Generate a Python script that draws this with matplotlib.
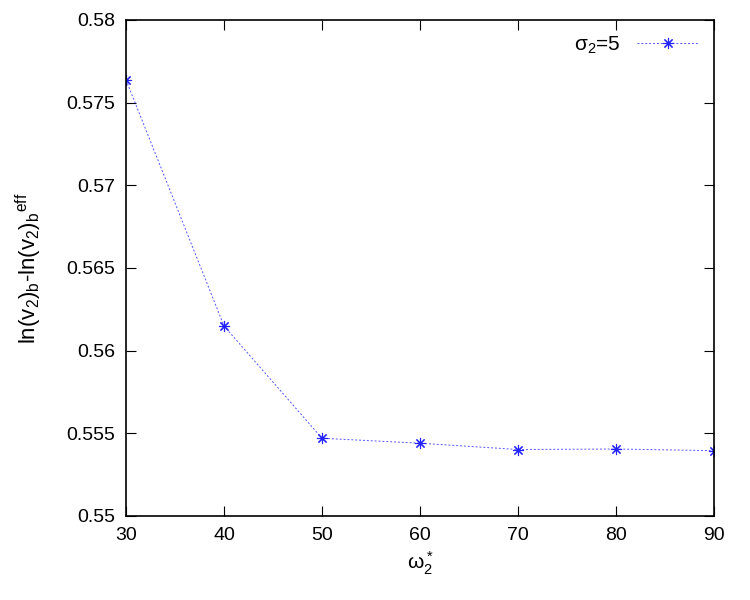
import matplotlib
matplotlib.use("Agg")
import matplotlib.pyplot as plt

# data
omega = [30, 40, 50, 60, 70, 80, 90]
delta = [0.57637, 0.56149, 0.55470, 0.55440, 0.55402, 0.55405, 0.55395]

plt.rcParams['font.family'] = ['Liberation Sans', 'DejaVu Sans']
plt.rcParams['mathtext.default'] = 'regular'

fig = plt.figure(figsize=(7.5, 6), dpi=100)
ax = fig.add_axes([0.168, 0.14, 0.784, 0.827])

# gnuplot style asterisk: 8 arms
ax.plot(omega, delta, color='#5555ff', linestyle=(0, (2, 2)), linewidth=0.7,
        marker=(8, 2, 0), markersize=8, markeredgewidth=0.8,
        markeredgecolor='#2222ff', label=r'$\sigma_2$=5')

ax.set_xlim(30, 90)
ax.set_ylim(0.55, 0.58)
ax.set_xticks([30, 40, 50, 60, 70, 80, 90])
ax.set_yticks([0.55, 0.555, 0.56, 0.565, 0.57, 0.575, 0.58])
ax.set_yticklabels(['0.55', '0.555', '0.56', '0.565', '0.57', '0.575', '0.58'])
ax.tick_params(direction='in', top=True, right=True, labelsize=14, length=7, pad=8)
for s in ax.spines.values():
    s.set_linewidth(1.2)

ax.set_xlabel(r'$\omega_2^*$', fontsize=15)
ax.set_ylabel(r'ln(v$_2$)$_b$-ln(v$_2$)$_b$$^{eff}$', fontsize=16, labelpad=16)

leg = ax.legend(loc='upper right', frameon=False, fontsize=15, markerfirst=False,
                handlelength=3, borderaxespad=0.3)

fig.savefig('out.png', dpi=100)
